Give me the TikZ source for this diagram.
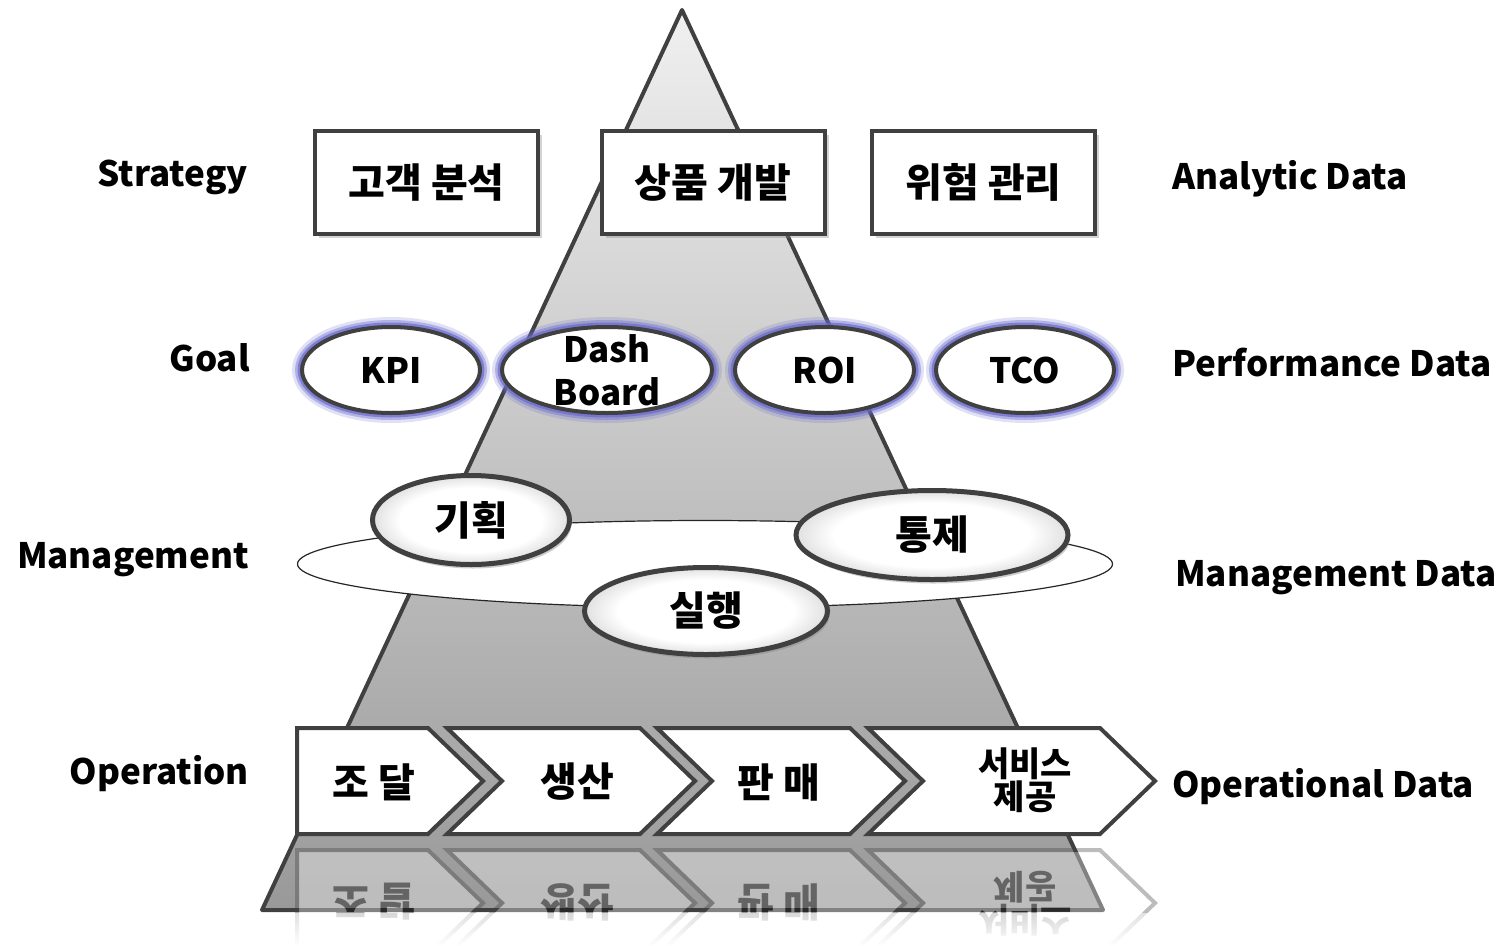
\documentclass[tikz,border=0pt]{standalone}
\usepackage{fontspec}
\setmainfont{Noto Sans CJK KR}
\usetikzlibrary{shapes.geometric,shadows,fadings}

\definecolor{darkline}{RGB}{64,64,64}
\definecolor{goalglow}{RGB}{105,105,205}
\pgfdeclareradialshading{ovalshade}{\pgfpoint{0bp}{0bp}}{color(0bp)=(white); color(18bp)=(white); color(50bp)=(black!55)}
\tikzfading[name=reflectfade,top color=transparent!45,bottom color=transparent!0]

\pgfdeclarelayer{backlayer}
\pgfdeclarelayer{reflectlayer}
\pgfsetlayers{backlayer,reflectlayer,main}

\newcommand{\bigfont}{\bfseries\fontsize{35}{43}\selectfont}
\newcommand{\hanfont}{\bfseries\fontsize{40}{43}\selectfont}
\newcommand{\smallfont}{\bfseries\fontsize{34}{30}\selectfont}

\tikzstyle{none}=[inner sep=0pt]
\tikzstyle{rowlabel}=[inner sep=0pt,font=\bigfont]
\tikzstyle{pyramid}=[draw=darkline,line width=4pt,line join=round,top color=black!6,bottom color=black!40]
\tikzstyle{topbox}=[rectangle,draw=darkline,line width=4pt,fill=white,minimum width=223pt,minimum height=103pt,font=\hanfont,drop shadow={shadow xshift=4pt,shadow yshift=-4pt,opacity=0.35}]
\tikzstyle{goal}=[ellipse,draw=darkline,line width=4pt,fill=white,minimum height=86pt,inner sep=0pt,font=\bigfont,preaction={draw=goalglow,line width=20pt,draw opacity=0.2},preaction={draw=goalglow,line width=14pt,draw opacity=0.4},preaction={draw=goalglow,line width=9pt,draw opacity=0.7}]
\tikzstyle{ring}=[ellipse,draw=black!85,line width=1.2pt,fill=white,minimum width=815pt,minimum height=87pt]
\tikzstyle{mgmt}=[ellipse,draw=darkline,line width=5pt,shade,shading=ovalshade,minimum height=89pt,inner sep=0pt,font=\hanfont,drop shadow={shadow xshift=2pt,shadow yshift=-4pt,opacity=0.4}]
\tikzstyle{chevron}=[draw=darkline,line width=4pt,fill=white]

% one row of process arrows, #1 = prefix of the node names
\newcommand{\operationrow}[1]{%
	\draw [style=chevron] (297,728) -- (428,728) -- (483,781) -- (428,834) -- (297,834) -- cycle;
	\foreach \l/\r in {447/640,657/850,868/1100}
		\draw [style=chevron] (\l,728) -- (\r,728) -- (\r+55,781) -- (\r,834) -- (\l,834) -- (\l+55,781) -- cycle;
	\node [style=none,font=\hanfont] (#1buy) at (374,782) {조 달};
	\node [style=none,font=\hanfont] (#1make) at (577,782) {생산};
	\node [style=none,font=\hanfont] (#1sell) at (779,782) {판 매};
	\node [style=none,font=\smallfont,align=center] (#1serve) at (1025,780) {서비스\\제공};
}

\begin{document}
\begin{tikzpicture}[x=1pt,y=-1pt]
	\useasboundingbox (0,0) rectangle (1509,945);
	\begin{pgfonlayer}{backlayer}
		\path [style=pyramid] (682,10) -- (1103,910) -- (262,910) -- cycle;
	\end{pgfonlayer}
	\begin{pgfonlayer}{reflectlayer}
		\begin{scope}[shift={(0,1684)},yscale=-1,transform shape,transparency group,opacity=0.35]
			\operationrow{r}
		\end{scope}
		\fill [white,path fading=reflectfade] (240,912.5) rectangle (1200,946);
	\end{pgfonlayer}
	% levels
	\node [style=rowlabel,anchor=base east] (strategy) at (248,186) {Strategy};
	\node [style=rowlabel,anchor=base east] (goal) at (250,371) {Goal};
	\node [style=rowlabel,anchor=base east] (management) at (249,568) {Management};
	\node [style=rowlabel,anchor=base east] (operation) at (249,784) {Operation};
	\node [style=rowlabel,anchor=base west] (analytic) at (1172,189) {Analytic Data};
	\node [style=rowlabel,anchor=base west] (performance) at (1172,376) {Performance Data};
	\node [style=rowlabel,anchor=base west] (mgmtdata) at (1175,586) {Management Data};
	\node [style=rowlabel,anchor=base west] (operational) at (1172,797) {Operational Data};
	% strategy
	\node [style=topbox] (customer) at (426.5,182.5) {고객 분석};
	\node [style=topbox] (product) at (713,182.5) {상품 개발};
	\node [style=topbox] (risk) at (983.5,182.5) {위험 관리};
	% goal
	\node [style=goal,minimum width=178pt] (kpi) at (391,370) {KPI};
	\node [style=goal,minimum width=210pt] (dash) at (607,370) {};
	\node [style=none,font=\bigfont,align=center] (dashtext) at (dash.center) {Dash\\Board};
	\node [style=goal,minimum width=179pt] (roi) at (824.5,370) {ROI};
	\node [style=goal,minimum width=178pt] (tco) at (1025,370) {TCO};
	% management
	\node [style=ring] (ring) at (705,564) {};
	\node [style=mgmt,minimum width=197pt] (plan) at (471,520) {기획};
	\node [style=mgmt,minimum width=272pt] (control) at (932,535) {통제};
	\node [style=mgmt,minimum width=243pt,minimum height=87pt] (execute) at (706,611) {실행};
	% operation
	\operationrow{}
\end{tikzpicture}
\end{document}
